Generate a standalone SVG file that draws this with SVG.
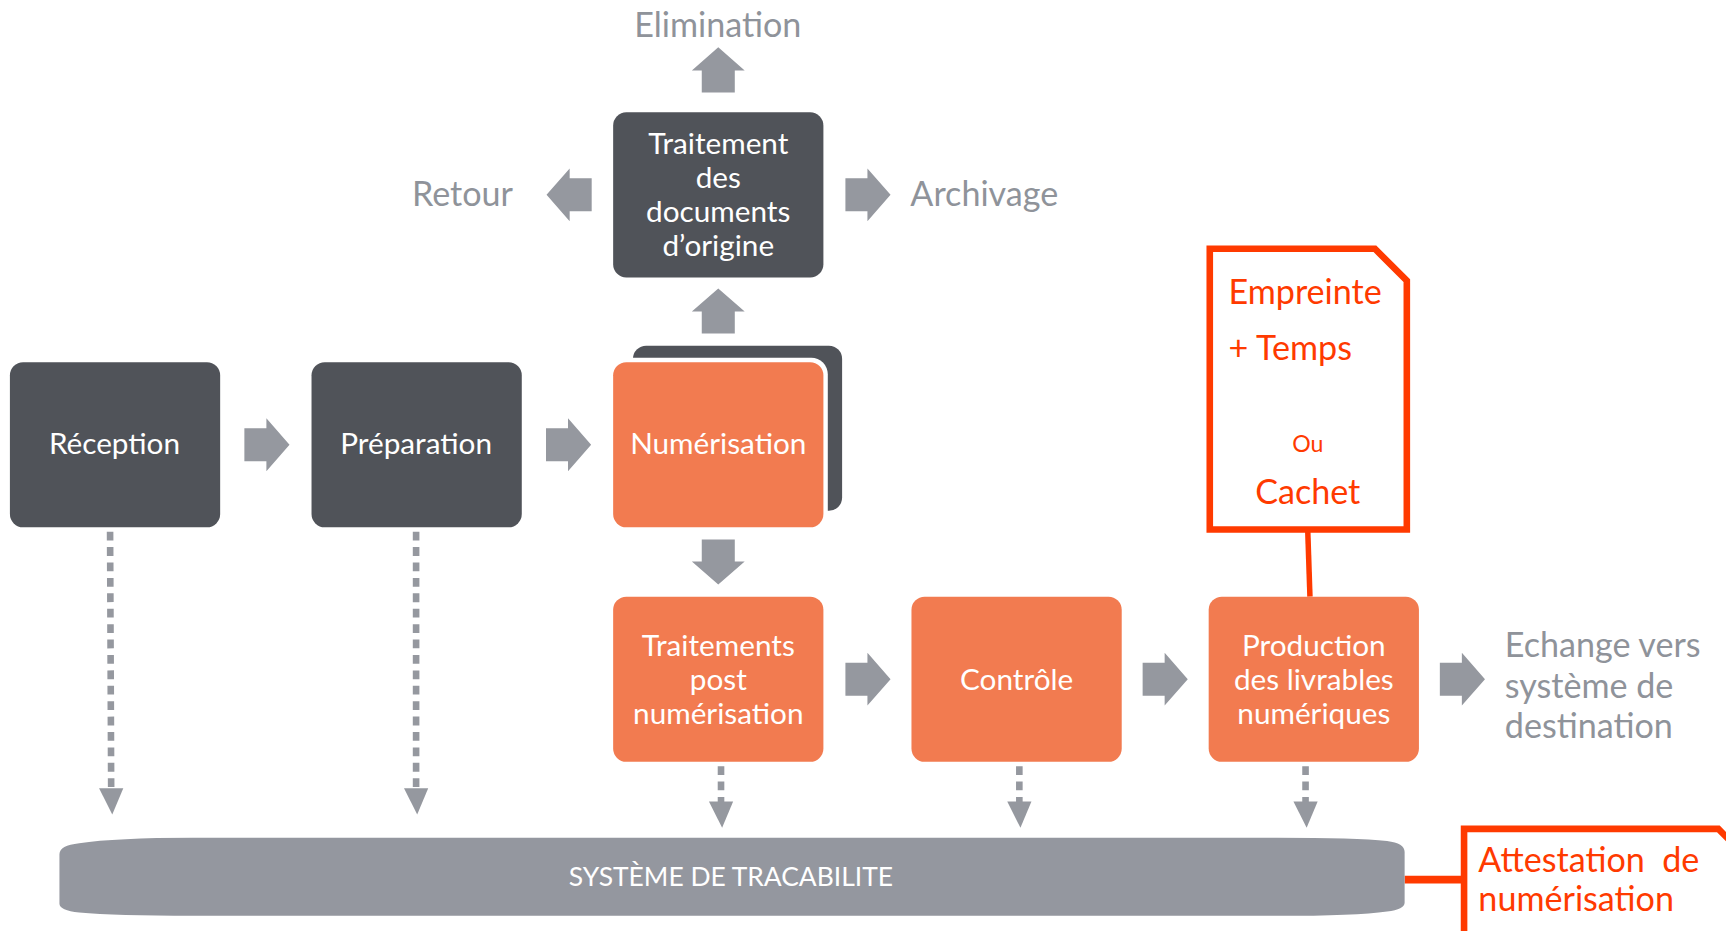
<svg xmlns="http://www.w3.org/2000/svg" xmlns:xlink="http://www.w3.org/1999/xlink" width="1726" height="931" viewBox="0 0 1726 931">
<style>
.dark{fill:#505359}
.orange{fill:#F27B50}
.arr{fill:#95989F}
.wt{fill:#FFFFFF;font-family:Lato,"Open Sans",sans-serif;font-size:27px;text-anchor:middle}
.gl{fill:#8F939A;font-family:Lato,"Open Sans",sans-serif;font-size:31px}
.rt{fill:#FF3A00;font-family:Lato,"Open Sans",sans-serif;font-size:31px}
.dash{stroke:#95989F;stroke-width:6;stroke-dasharray:8 6;fill:none}
.red{stroke:#FF3A00;stroke-width:6;fill:none}
</style>
<defs>
<path id="rarrow" d="M0,-15 H20 V-24 L41,0 L20,24 V15 H0 Z"/>
<path id="dhead" d="M-11,0 H11 L1,24 Z"/>
</defs>
<rect width="1726" height="931" fill="#FFFFFF"/>
<g transform="scale(1.1008)">
<g id="connectors">
<use xlink:href="#rarrow" class="arr" transform="translate(222,404)"/>
<use xlink:href="#rarrow" class="arr" transform="translate(496,404)"/>
<use xlink:href="#rarrow" class="arr" transform="translate(768,617)"/>
<use xlink:href="#rarrow" class="arr" transform="translate(1038,617)"/>
<use xlink:href="#rarrow" class="arr" transform="translate(1308,617)"/>
<use xlink:href="#rarrow" class="arr" transform="translate(768,177)"/>
<use xlink:href="#rarrow" class="arr" transform="translate(537.5,177) scale(-1,1)"/>
<use xlink:href="#rarrow" class="arr" transform="translate(652.5,84) rotate(-90)"/>
<use xlink:href="#rarrow" class="arr" transform="translate(652.5,303) rotate(-90)"/>
<use xlink:href="#rarrow" class="arr" transform="translate(652.5,490) rotate(90)"/>
<path class="dash" d="M100,483 L101,718"/>
<use xlink:href="#dhead" class="arr" transform="translate(101,716)"/>
<path class="dash" d="M378,483 L378,718"/>
<use xlink:href="#dhead" class="arr" transform="translate(378,716)"/>
<path class="dash" d="M655,696 L655,730"/>
<use xlink:href="#dhead" class="arr" transform="translate(655,728)"/>
<path class="dash" d="M926,696 L926,730"/>
<use xlink:href="#dhead" class="arr" transform="translate(926,728)"/>
<path class="dash" d="M1186,696 L1186,730"/>
<use xlink:href="#dhead" class="arr" transform="translate(1186,728)"/>
<path d="M1188,482 L1190,542" stroke="#FF3A00" stroke-width="5" fill="none"/>
<path d="M1276,799 L1330,799" stroke="#FF3A00" stroke-width="7" fill="none"/>
</g>
<g id="elimination"><text class="gl" x="652" y="34" text-anchor="middle">Elimination</text></g>
<g id="retour"><text class="gl" x="466" y="187" text-anchor="end">Retour</text></g>
<g id="archivage"><text class="gl" x="827" y="187">Archivage</text></g>
<g id="traitement-origine">
<rect class="dark" x="557" y="102" width="191" height="150" rx="12"/>
<text class="wt" x="652.5" y="140">Traitement</text>
<text class="wt" x="652.5" y="171">des</text>
<text class="wt" x="652.5" y="202">documents</text>
<text class="wt" x="652.5" y="233">d’origine</text>
</g>
<g id="reception">
<rect class="dark" x="9" y="329" width="191" height="150" rx="12"/>
<text class="wt" x="104" y="412">Réception</text>
</g>
<g id="preparation">
<rect class="dark" x="283" y="329" width="191" height="150" rx="12"/>
<text class="wt" x="378" y="412">Préparation</text>
</g>
<g id="numerisation">
<rect class="dark" x="575" y="314" width="190" height="150" rx="12"/>
<rect fill="#FFFFFF" x="553" y="325" width="199" height="158" rx="15"/>
<rect class="orange" x="557" y="329" width="191" height="150" rx="12"/>
<text class="wt" x="652.5" y="412">Numérisation</text>
</g>
<g id="traitements-post">
<rect class="orange" x="557" y="542" width="191" height="150" rx="12"/>
<text class="wt" x="652.5" y="596">Traitements</text>
<text class="wt" x="652.5" y="627">post</text>
<text class="wt" x="652.5" y="658">numérisation</text>
</g>
<g id="controle">
<rect class="orange" x="828" y="542" width="191" height="150" rx="12"/>
<text class="wt" x="923.5" y="627">Contrôle</text>
</g>
<g id="production">
<rect class="orange" x="1098" y="542" width="191" height="150" rx="12"/>
<text class="wt" x="1193.5" y="596">Production</text>
<text class="wt" x="1193.5" y="627">des livrables</text>
<text class="wt" x="1193.5" y="658">numériques</text>
</g>
<g id="echange">
<text class="gl" x="1367" y="597">Echange vers</text>
<text class="gl" x="1367" y="634">système de</text>
<text class="gl" x="1367" y="670">destination</text>
</g>
<g id="empreinte">
<path class="red" d="M1099,226 H1249 L1278,255 V481 H1099 Z" fill="#FFFFFF"/>
<text class="rt" x="1116" y="276">Empreinte</text>
<text class="rt" x="1116" y="327">+ Temps</text>
<text class="rt" x="1188" y="411" text-anchor="middle" style="font-size:21px">Ou</text>
<text class="rt" x="1188" y="458" text-anchor="middle">Cachet</text>
</g>
<g id="tracabilite">
<path fill="#94979F" d="M54,776 Q54,768 72,766 Q105,761 175,761 L1160,761 Q1232,761 1260,764 Q1276,766 1276,774 L1276,820 Q1276,826 1260,828 Q1232,832 1160,832 L175,832 Q105,832 72,829 Q54,827 54,821 Z"/>
<text class="wt" x="664" y="805" style="font-size:24px">SYSTÈME DE TRACABILITE</text>
</g>
<g id="attestation">
<path class="red" d="M1330,850 V753 H1561 L1590,782" fill="#FFFFFF"/>
<text class="rt" x="1343" y="792" xml:space="preserve">Attestation  de</text>
<text class="rt" x="1343" y="828">numérisation</text>
</g>
</g>
</svg>
